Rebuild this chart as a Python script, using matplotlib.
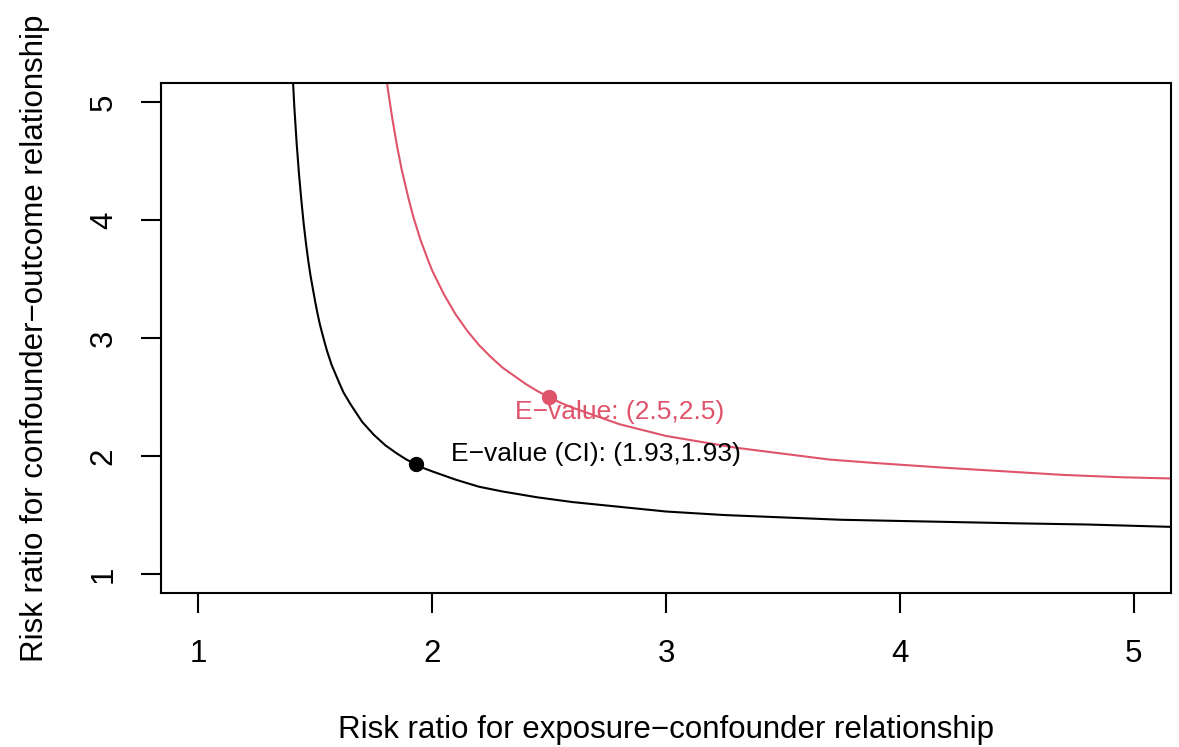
import matplotlib
matplotlib.use("Agg")
import matplotlib.pyplot as plt

plt.rcParams['font.family'] = ['Liberation Sans', 'DejaVu Sans']

# E-value curve for the point estimate (red)
est_x = [1.80, 1.81, 1.82, 1.83, 1.85, 1.87, 1.90, 1.92, 1.95, 1.98, 2.00,
         2.05, 2.10, 2.15, 2.20, 2.25, 2.30, 2.35, 2.40, 2.45, 2.50, 2.55,
         2.60, 2.70, 2.80, 2.90, 3.00, 3.15, 3.30, 3.50, 3.70, 3.90, 4.20,
         4.45, 4.70, 4.95, 5.16]
est_y = [5.26, 5.11, 4.98, 4.85, 4.62, 4.42, 4.17, 4.02, 3.83, 3.67, 3.57,
         3.37, 3.20, 3.06, 2.94, 2.84, 2.75, 2.68, 2.61, 2.55, 2.50, 2.45,
         2.41, 2.34, 2.27, 2.22, 2.17, 2.12, 2.07, 2.02, 1.97, 1.94, 1.90,
         1.87, 1.84, 1.82, 1.81]

# E-value curve for the confidence limit (black)
ci_x = [1.40, 1.41, 1.42, 1.43, 1.44, 1.45, 1.46, 1.47, 1.48, 1.50, 1.51,
        1.52, 1.54, 1.55, 1.57, 1.60, 1.62, 1.65, 1.68, 1.70, 1.75, 1.80,
        1.85, 1.89, 1.93, 1.96, 2.00, 2.10, 2.20, 2.30, 2.45, 2.60, 2.80,
        3.00, 3.25, 3.50, 3.75, 4.00, 4.25, 4.50, 4.80, 5.16]
ci_y = [5.34, 4.96, 4.65, 4.39, 4.17, 3.97, 3.80, 3.65, 3.52, 3.30, 3.20,
        3.11, 2.96, 2.89, 2.77, 2.63, 2.54, 2.44, 2.35, 2.29, 2.18, 2.09,
        2.02, 1.97, 1.93, 1.90, 1.87, 1.80, 1.74, 1.70, 1.65, 1.61, 1.57,
        1.53, 1.50, 1.48, 1.46, 1.45, 1.44, 1.43, 1.42, 1.40]

est_point = (2.5, 2.5)
ci_point = (1.93, 1.93)
est_label = "E\u2212value: (2.5,2.5)"
ci_label = "E\u2212value (CI): (1.93,1.93)"
ticks = [1, 2, 3, 4, 5]

red = "#DF536B"

fig = plt.figure(figsize=(11.79, 7.47), dpi=100)
ax = fig.add_axes([0.1366, 0.2062, 0.8566, 0.6827])

ax.plot(est_x, est_y, color=red, lw=1.5)
ax.plot(ci_x, ci_y, color="black", lw=1.5)
ax.plot(*est_point, "o", color=red, ms=10)
ax.plot(*ci_point, "o", color="black", ms=10)

ax.text(2.80, 2.37, est_label, color=red, fontsize=19,
        ha="center", va="center")
ax.text(2.08, 2.02, ci_label, color="black", fontsize=19,
        ha="left", va="center")

ax.set_xlim(0.84, 5.16)
ax.set_ylim(0.84, 5.16)
ax.set_xticks(ticks)
ax.set_yticks(ticks)
ax.set_xticklabels([str(t) for t in ticks], fontsize=22.5)
ax.set_yticklabels([str(t) for t in ticks], fontsize=22.5, rotation=90, va="center")
ax.tick_params(axis="x", direction="out", length=14.4, width=1.5, pad=19)
ax.tick_params(axis="y", direction="out", length=14.4, width=1.5, pad=16)
for s in ax.spines.values():
    s.set_linewidth(1.5)

ax.set_xlabel("Risk ratio for exposure\u2212confounder relationship", fontsize=22.5, labelpad=33)
ax.set_ylabel("Risk ratio for confounder\u2212outcome relationship", fontsize=22.5, labelpad=28)

fig.savefig("out.png", dpi=100)
